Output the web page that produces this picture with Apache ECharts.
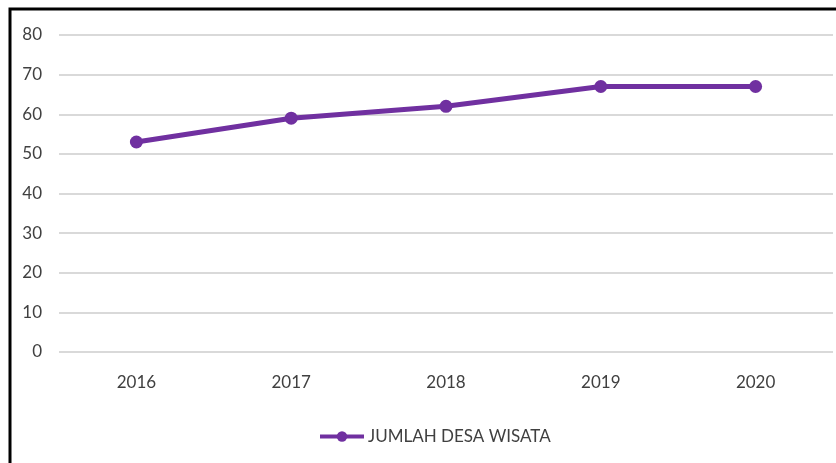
<!DOCTYPE html>
<html><head><meta charset="utf-8">
<script src="https://cdn.jsdelivr.net/npm/echarts@6/dist/echarts.min.js"></script>
<style>html,body{margin:0;padding:0;background:#fff}#c{width:836px;height:463px}</style>
</head><body><div id="c"></div>
<script>
const categories = ['2016','2017','2018','2019','2020'];
const values = [53, 59, 62, 67, 67];
const seriesName = 'JUMLAH DESA WISATA';
const chart = echarts.init(document.getElementById('c'));
chart.setOption({
  animation: false,
  textStyle: {fontFamily: 'Lato'},
  graphic: [{type:'rect', shape:{x:10, y:9, width:900, height:600}, style:{fill:'none', stroke:'#000', lineWidth:3}, z:-1}],
  grid: {left:59, right:3, top:35, bottom:111, containLabel:false},
  xAxis: {type:'category', data: categories, axisLine:{show:false}, axisTick:{show:false},
    axisLabel:{color:'#404040', fontSize:17, margin:22}},
  yAxis: {type:'value', min:0, max:80, interval:10, axisLine:{show:false}, axisTick:{show:false},
    axisLabel:{color:'#404040', fontSize:17, margin:17},
    splitLine:{lineStyle:{color:'#d9d9d9', width:2}}},
  legend: {bottom:13, left:313, itemWidth:44, itemHeight:13, itemGap:4,
    lineStyle:{width:4},
    textStyle:{color:'#404040', fontSize:17, padding:[0,0,0,-1]}, data:[seriesName]},
  series: [{name: seriesName, type:'line', data: values, symbol:'circle', symbolSize:13,
    lineStyle:{color:'#7030A0', width:5}, itemStyle:{color:'#7030A0'}}]
});
</script></body></html>
